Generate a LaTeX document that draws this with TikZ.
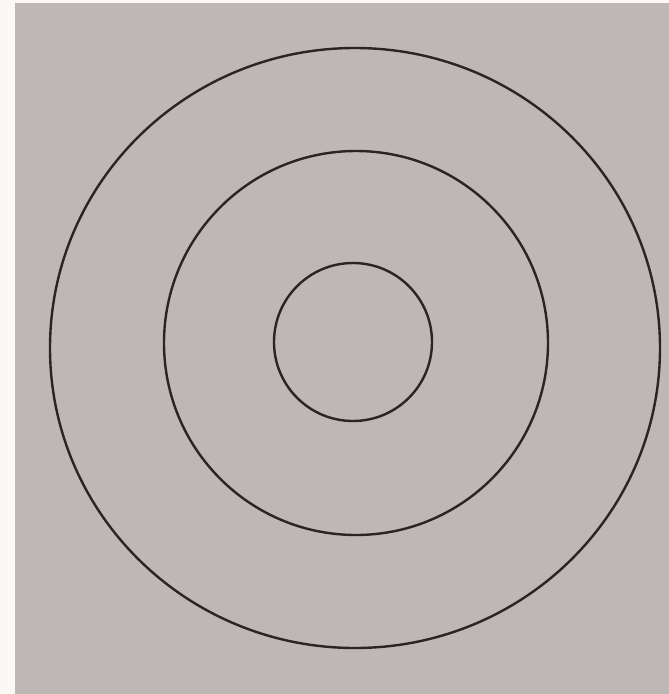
\documentclass[tikz,border=0pt]{standalone}
\definecolor{paper}{HTML}{BDB8B6}
\definecolor{margin}{HTML}{FBF8F6}
\definecolor{ink}{HTML}{2A2525}
\tikzset{ring/.style={draw=ink, line width=2.4pt}}
\begin{document}
\begin{tikzpicture}[x=1pt,y=-1pt]
\fill[margin] (0,0) rectangle (669,694);
\useasboundingbox (0,0) rectangle (669,694);
\fill[paper] (15,3) rectangle (669,694);
\draw[ring] (355,348) ellipse [x radius=305, y radius=300];
\draw[ring] (356,343) ellipse [x radius=192, y radius=192];
\draw[ring] (353,342) ellipse [x radius=79, y radius=79];
\end{tikzpicture}
\end{document}
